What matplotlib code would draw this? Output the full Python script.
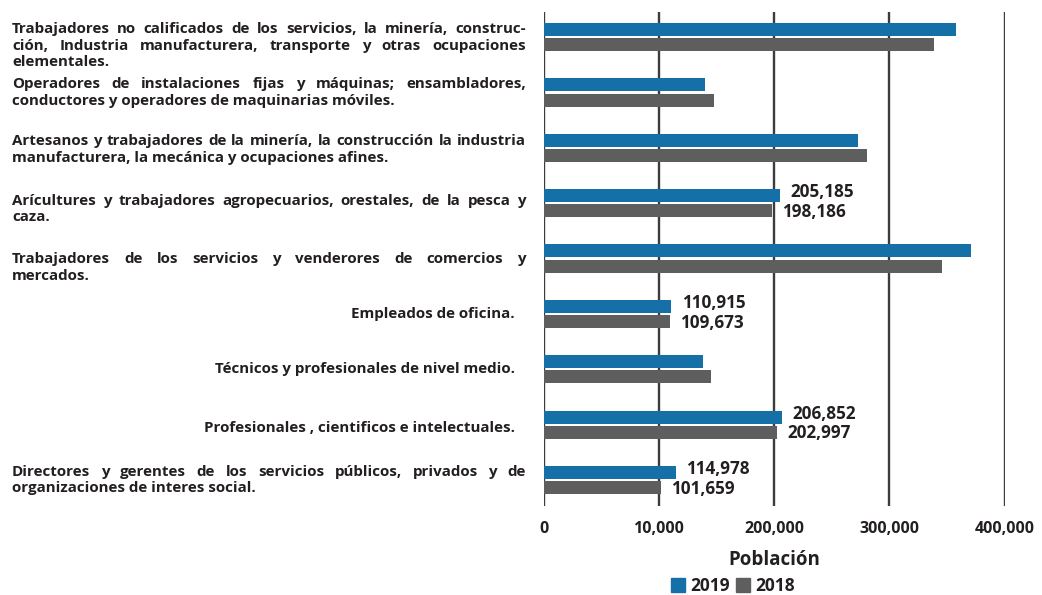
import matplotlib
matplotlib.use("Agg")
import matplotlib.pyplot as plt
from matplotlib.patches import Patch
import numpy as np

# ---------------- data ----------------
categories = [
    "Trabajadores no calificados de los servicios, la minería, construc-\nción, Industria manufacturera, transporte y otras ocupaciones\nelementales.",
    "Operadores de instalaciones fijas y máquinas; ensambladores,\nconductores y operadores de maquinarias móviles.",
    "Artesanos y trabajadores de la minería, la construcción la industria\nmanufacturera, la mecánica y ocupaciones afines.",
    "Arícultures y trabajadores agropecuarios, orestales, de la pesca y\ncaza.",
    "Trabajadores de los servicios y venderores de comercios y\nmercados.",
    "Empleados de oficina.",
    "Técnicos y profesionales de nivel medio.",
    "Profesionales , cientificos e intelectuales.",
    "Directores y gerentes de los servicios públicos, privados y de\norganizaciones de interes social.",
]
values_2019 = [357800, 140300, 273000, 205185, 370800, 110915, 138300, 206852, 114978]
values_2018 = [338400, 147600, 280600, 198186, 345600, 109673, 145300, 202997, 101659]
labels_2019 = [None, None, None, "205,185", None, "110,915", None, "206,852", "114,978"]
labels_2018 = [None, None, None, "198,186", None, "109,673", None, "202,997", "101,659"]
xtick_values = [0, 100000, 200000, 300000, 400000]
xtick_labels = ["0", "10,000", "200,000", "300,000", "400,000"]
series_names = ["2019", "2018"]
x_title = "Población"

# ---------------- style ----------------
BLUE = "#1570A8"
GRAY = "#5E5E5E"
GRID = "#3C3C3C"
TXT = "#231F20"
FONT = "Open Sans"
W, H = 1042, 595
cat_text_offsets_px = [9, 0, 2, 6, 9, 0, 0, 3, 0]  # vertical nudges (pixels, downward)

plt.rcParams["font.family"] = [FONT, "DejaVu Sans"]
plt.rcParams["text.color"] = TXT

fig = plt.figure(figsize=(W / 100, H / 100), dpi=100)
ax_left, ax_right = 543.5, 1004.5
ax_top, ax_bot = 12, 506
ax = fig.add_axes([ax_left / W, (H - ax_bot) / H, (ax_right - ax_left) / W, (ax_bot - ax_top) / H])

n = len(categories)
y = np.arange(n)
bh = 0.235
ax.barh(y - 0.135, values_2019, height=bh, color=BLUE, zorder=3)
ax.barh(y + 0.14, values_2018, height=bh, color=GRAY, zorder=3)

ax.set_xlim(0, 400000)
ax.set_ylim(8.47, -0.45)
for xv in xtick_values:
    ax.axvline(xv, color=GRID, lw=1.7, zorder=1)

for s in ax.spines.values():
    s.set_visible(False)
ax.set_yticks([])
ax.set_xticks(xtick_values)
ax.set_xticklabels(xtick_labels, fontsize=11.5, fontweight="bold", color=TXT)
ax.tick_params(axis="x", length=0, pad=11)
ax.set_xlabel(x_title, fontsize=13.5, fontweight="bold", color=TXT, labelpad=9)

# value labels
for i in range(n):
    if labels_2019[i]:
        ax.annotate(labels_2019[i], (values_2019[i], y[i] - 0.135), xytext=(7.5, 2.5),
                    textcoords="offset points", va="center", ha="left",
                    fontsize=12.3, fontweight="bold", color=TXT)
    if labels_2018[i]:
        ax.annotate(labels_2018[i], (values_2018[i], y[i] + 0.14), xytext=(7.5, -0.8),
                    textcoords="offset points", va="center", ha="left",
                    fontsize=12.3, fontweight="bold", color=TXT)

# legend
handles = [Patch(color=BLUE), Patch(color=GRAY)]
fig.legend(handles, series_names, loc="center", bbox_to_anchor=(733 / W, 1 - 586 / H),
           ncol=2, frameon=False, handlelength=0.8, handleheight=0.8,
           handletextpad=0.3, columnspacing=0.4, borderpad=0.1,
           prop={"family": FONT, "weight": "bold", "size": 12.5})

# justified category labels
fig.canvas.draw()
renderer = fig.canvas.get_renderer()
cat_fs = 10.9
font_kw = dict(fontsize=cat_fs, fontweight="bold", color=TXT)

def width_px(s):
    t = fig.text(0, 0, s, **font_kw)
    w = t.get_window_extent(renderer).width
    t.remove()
    return w

x_l, x_r, x_single = 12, 526, 515
line_pitch = 16.5
for i, cat in enumerate(categories):
    lines = cat.split("\n")
    cy = ax.transData.transform((0, y[i]))[1] - cat_text_offsets_px[i]
    nl = len(lines)
    for j, line in enumerate(lines):
        ly = cy + ((nl - 1) / 2 - j) * line_pitch
        if nl == 1:
            fig.text(x_single / W, ly / H, line, ha="right", va="center", **font_kw)
        elif j == nl - 1:
            fig.text(x_l / W, ly / H, line, ha="left", va="center", **font_kw)
        else:
            words = line.split(" ")
            ws = [width_px(w_) for w_ in words]
            gap = (x_r - x_l - sum(ws)) / max(len(words) - 1, 1)
            gap = max(gap, 1.5)
            xx = x_l
            for w_, wd in zip(words, ws):
                fig.text(xx / W, ly / H, w_, ha="left", va="center", **font_kw)
                xx += wd + gap

fig.savefig("out.png", dpi=100)
